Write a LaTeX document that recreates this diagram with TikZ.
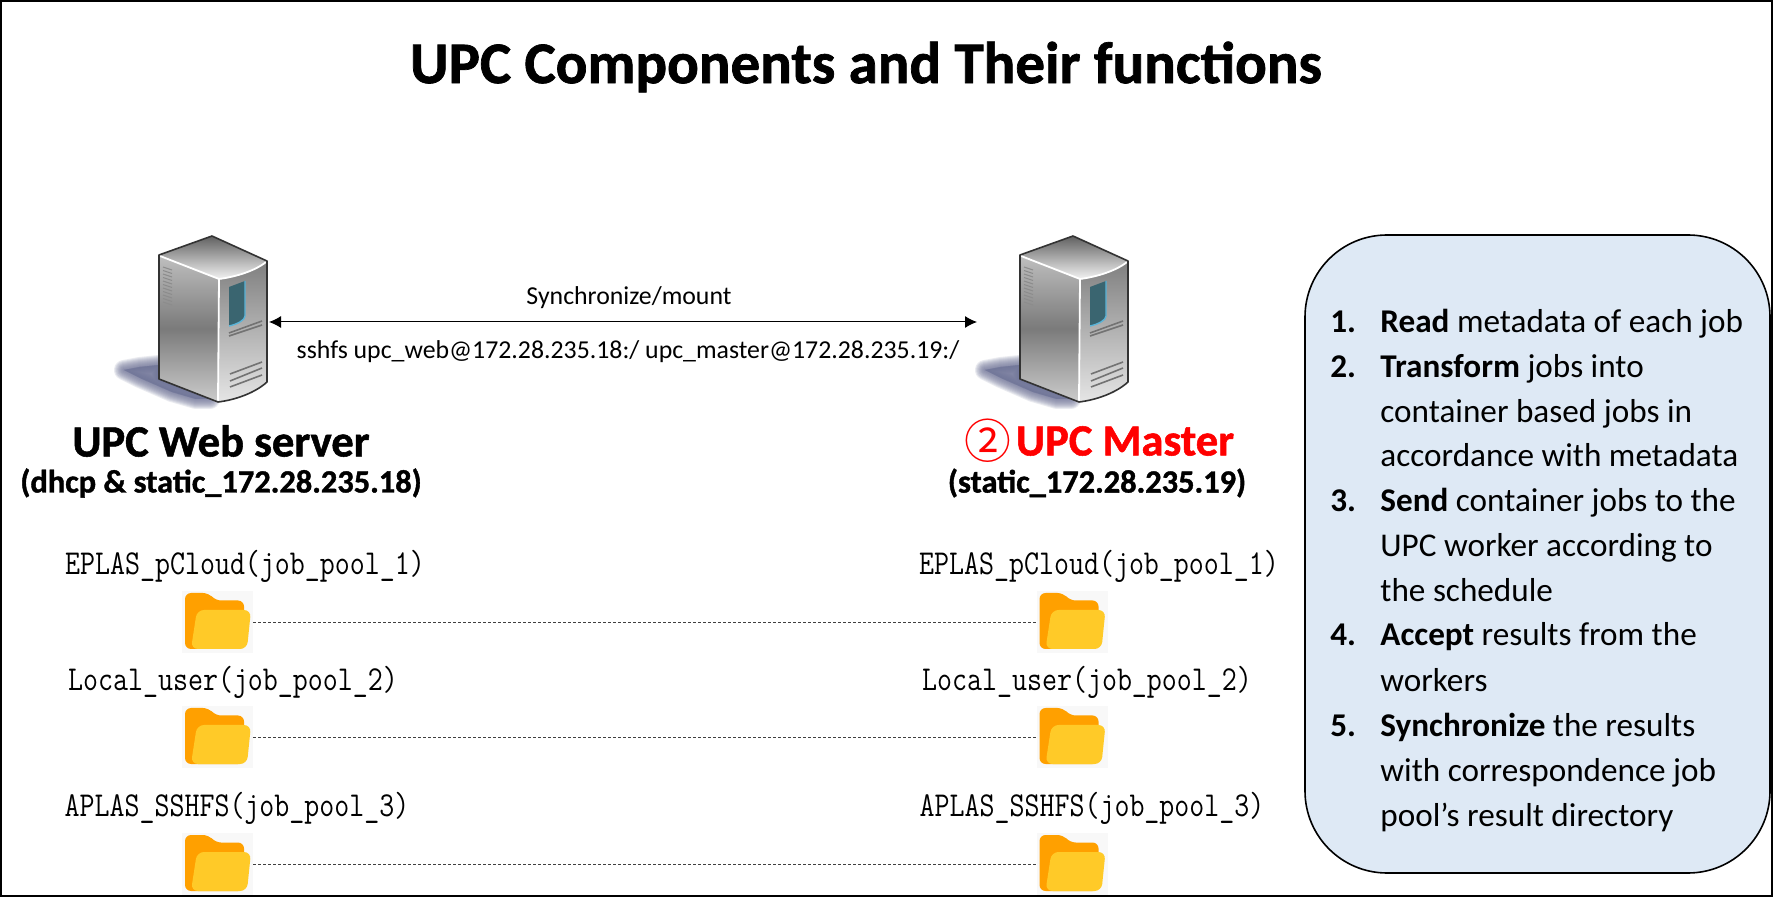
\documentclass[tikz,border=0pt]{standalone}
\usepackage{fontspec}
\setmainfont{Carlito}
\newfontfamily\circfont{Noto Sans CJK SC}
\newfontfamily\heavyfont[FakeBold=1.2]{Carlito Bold}
\usetikzlibrary{arrows.meta}
\definecolor{boxblue}{HTML}{DEE9F5}
\definecolor{folderback}{HTML}{FFA000}
\definecolor{folderfront}{HTML}{FFCA28}
\definecolor{folderbg}{HTML}{F8F8F8}
\definecolor{shadowc}{HTML}{6F7498}
\definecolor{windowc}{HTML}{3A6570}
\definecolor{windowedge}{HTML}{5AB4D8}
\newcommand{\pooltext}[1]{\scalebox{1}[1.2]{#1}}
\tikzset{
  x=0.5pt,y=-0.5pt,
  title/.style={font=\fontsize{29.5}{36}\heavyfont,inner sep=0},
  srvname/.style={font=\fontsize{22.3}{26}\heavyfont,inner sep=0},
  srvaddr/.style={font=\fontsize{16.2}{18}\heavyfont,inner sep=0},
  small/.style={font=\fontsize{12.9}{15}\selectfont,inner sep=0},
  pool/.style={font=\ttfamily\fontsize{14.56}{16}\selectfont,inner sep=0},
  listnum/.style={font=\fontsize{16.6}{20}\selectfont\bfseries,inner sep=0,anchor=base west},
  listline/.style={font=\fontsize{16.6}{20}\selectfont,inner sep=0,anchor=base west},
  folderbox/.style={fill=folderbg,minimum width=35.5pt,minimum height=31pt,inner sep=0,outer sep=0},
  srvbox/.style={minimum height=85pt,inner sep=0,outer sep=0},
  syncline/.style={dash pattern=on 1.6pt off 0.9pt,line width=0.45pt,draw=black!75},
  mountarrow/.style={{Latex[length=6pt,width=6pt]}-{Latex[length=6pt,width=6pt]},line width=0.5pt},
  vent/.style={draw=black!45,line width=0.5pt},
  slot/.style={draw=black!55,line width=0.8pt},
}
\newcommand{\serverart}{%
  % soft shadow built from nested translucent strokes
  \foreach \w in {10,9,...,1}{
    \fill[shadowc,opacity=0.14,draw=shadowc,line width=\w pt,line join=round]
      (124,370)--(140,367)--(159,365)--(159,379)--(210,399)--(196,399)--(172,392)--(140,378)--cycle;}
  % left face
  \shade[shading angle=40,top color=black!25,bottom color=black!20,middle color=black!52]
    (159,255)--(219,279)--(218,402)--(159,379)--cycle;
  % front face
  \shade[top color=black!50,middle color=black!38,bottom color=black!10]
    (219,279) .. controls (235,277) and (255,271) .. (267,261)--(267,382)
    .. controls (255,393) and (235,400) .. (218,402)--cycle;
  % top face
  \shade[top color=black!62,bottom color=black!5]
    (159,255)--(212,236)--(267,261) .. controls (255,271) and (235,277) .. (219,279)--cycle;
  % highlights
  \draw[white,line width=0.9pt] (160,256)--(219,279) .. controls (235,277) and (255,271) .. (266,262);
  \draw[white,line width=0.9pt] (219,279)--(218,401);
  % outline
  \draw[black!80,line width=0.8pt,line join=round]
    (159,255)--(212,236)--(267,261)--(267,382)
    .. controls (255,393) and (235,400) .. (218,402)--(159,379)--cycle;
  % window
  \fill[windowc] (229,287)--(245,281)--(245,316) .. controls (245,320) and (238,324) .. (229,326)--cycle;
  \draw[windowedge,line width=0.7pt] (245,281)--(245,316) .. controls (245,320) and (238,324) .. (229,326);
  % slots
  \draw[slot] (229,333)--(262,321);
  \draw[slot] (229,336)--(262,325);
  \draw[slot] (230,374)--(262,362);
  \draw[slot] (230,381)--(262,368);
  \draw[slot] (230,387)--(262,375);
  % vent
  \foreach \v in {267,270.5,...,305}{\draw[vent] (163,\v)--(172,\v+3);}
}
\newcommand{\folderart}{%
  \fill[folderback,rounded corners=3pt]
    (3,2)--(27,2)--(33,9.5)--(62,9.5)--(62,40)--(62,58)--(3,58)--cycle;
  \fill[folderfront,rounded corners=3.5pt]
    (15,19)--(69,19)--(65,58)--(9,58)--cycle;
}
\begin{document}
\begin{tikzpicture}
\useasboundingbox (0,0) rectangle (1773,897);
\fill[white] (0,0) rectangle (1773,897);

\node[title] (ttl) at (866,67) {UPC Components and Their functions};

% servers
\begin{scope}\serverart\end{scope}
\begin{scope}[xshift=430.5pt]\serverart\end{scope}
\node[srvbox,minimum width=76.5pt] (web) at (192.5,322) {};
\node[srvbox,minimum width=75.5pt] (master) at (1052.5,322) {};
\draw[mountarrow] (web) -- (master);
\node[small] (sync) at (629,298) {Synchronize/mount};
\node[small] (sshfs) at (628,352) {sshfs upc\_web@172.28.235.18:/ upc\_master@172.28.235.19:/};

\node[srvname] (webname) at (221,441) {UPC Web server};
\node[srvaddr] (webaddr) at (221,483) {(dhcp \& static\_172.28.235.18)};
\node[srvname,text=red] (mastername) at (1125,441) {UPC Master};
\node[font=\circfont\fontsize{23.4}{26}\selectfont,inner sep=0,text=red] (mastercirc) at (988,441) {②};
\node[srvaddr] (masteraddr) at (1097,483) {(static\_172.28.235.19)};

% folders and labels
\foreach \n/\fy in {1/622, 2/737, 3/864}{
  \node[folderbox] (fa\n) at (217.5,\fy) {};
  \node[folderbox] (fb\n) at (1072,\fy) {};
  \begin{scope}[xshift=91pt,yshift=-\fy*0.5pt+15.5pt]\folderart\end{scope}
  \begin{scope}[xshift=518.25pt,yshift=-\fy*0.5pt+15.5pt]\folderart\end{scope}
  \draw[syncline] (fa\n) -- (fb\n);
}
\node[pool] (la1) at (245,566) {\pooltext{EPLAS\_pCloud(job\_pool\_1)}};
\node[pool] (lb1) at (1099,566) {\pooltext{EPLAS\_pCloud(job\_pool\_1)}};
\node[pool] (la2) at (233,682) {\pooltext{Local\_user(job\_pool\_2)}};
\node[pool] (lb2) at (1087,682) {\pooltext{Local\_user(job\_pool\_2)}};
\node[pool] (la3) at (237,808) {\pooltext{APLAS\_SSHFS(job\_pool\_3)}};
\node[pool] (lb3) at (1092,808) {\pooltext{APLAS\_SSHFS(job\_pool\_3)}};

% function box
\draw[black,fill=boxblue,line width=0.8pt,rounded corners=41pt] (1305,235) rectangle (1770,873);
\node[listnum] (n1) at (1330,333) {1.};
\node[listline] (t1) at (1380,333) {\textbf{Read} metadata of each job};
\node[listnum] (n2) at (1330,378) {2.};
\node[listline] (t2a) at (1380,378) {\textbf{Transform} jobs into};
\node[listline] (t2b) at (1380,422.5) {container based jobs in};
\node[listline] (t2c) at (1380,467) {accordance with metadata};
\node[listnum] (n3) at (1330,512) {3.};
\node[listline] (t3a) at (1380,512) {\textbf{Send} container jobs to the};
\node[listline] (t3b) at (1380,557) {UPC worker according to};
\node[listline] (t3c) at (1380,602) {the schedule};
\node[listnum] (n4) at (1330,646) {4.};
\node[listline] (t4a) at (1380,646) {\textbf{Accept} results from the};
\node[listline] (t4b) at (1380,691) {workers};
\node[listnum] (n5) at (1330,736) {5.};
\node[listline] (t5a) at (1380,736) {\textbf{Synchronize} the results};
\node[listline] (t5b) at (1380,781) {with correspondence job};
\node[listline] (t5c) at (1380,826) {pool’s result directory};
\draw[black,line width=1.2pt] (1,1) rectangle (1772,896);
\end{tikzpicture}
\end{document}
